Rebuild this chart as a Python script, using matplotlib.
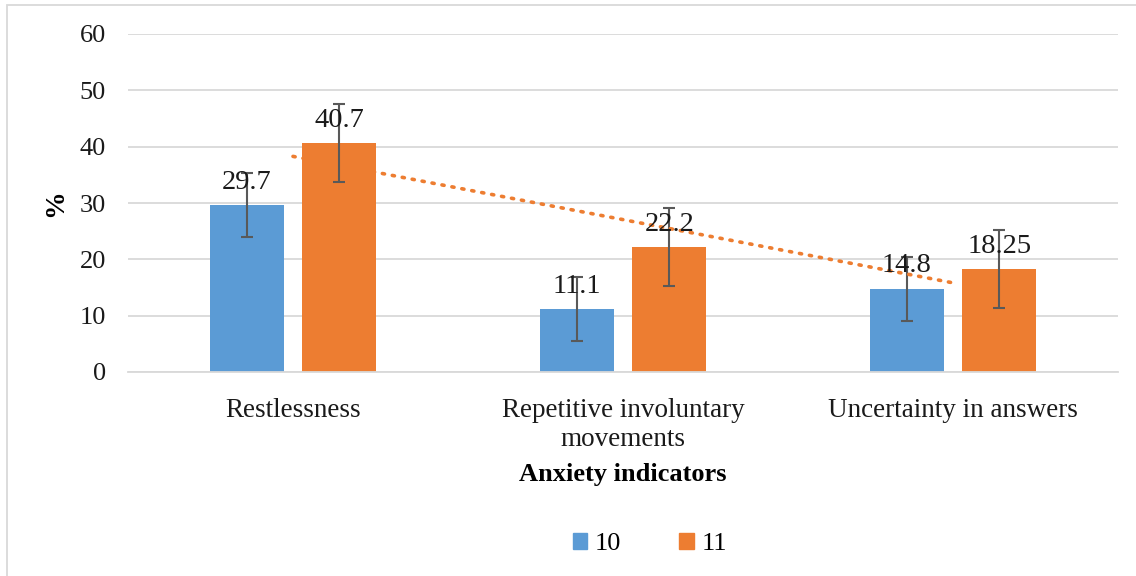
import numpy as np
import matplotlib as mpl
mpl.use('Agg')
import matplotlib.pyplot as plt
from matplotlib.patches import Rectangle, Patch

categories = ["Restlessness", "Repetitive involuntary\nmovements", "Uncertainty in answers"]
grade10 = [29.7, 11.1, 14.8]
grade11 = [40.7, 22.2, 18.25]
err10 = [5.68, 5.68, 5.68]
err11 = [6.92, 6.92, 6.92]
labels10 = ["29.7", "11.1", "14.8"]
labels11 = ["40.7", "22.2", "18.25"]
series_names = ["10", "11"]

blue = "#5B9BD5"
orange = "#ED7D31"

plt.rcParams['font.family'] = ['Liberation Serif', 'DejaVu Serif']

fig = plt.figure(figsize=(11.36, 5.76), dpi=100)
ax = fig.add_axes([128 / 1136, 1 - 372 / 576, (1118 - 128) / 1136, (372 - 34) / 576])

x = np.arange(len(categories))
w = 0.225
off = 0.14
ax.bar(x - off, grade10, w, color=blue, zorder=2)
ax.bar(x + off, grade11, w, color=orange, zorder=2)
ax.errorbar(x - off, grade10, yerr=err10, fmt='none', ecolor="#595959",
            elinewidth=1.5, capsize=4.5, capthick=1.5, zorder=3)
ax.errorbar(x + off, grade11, yerr=err11, fmt='none', ecolor="#595959",
            elinewidth=1.5, capsize=4.5, capthick=1.5, zorder=3)

# linear trendline of the "11" series
k, b = np.polyfit(x, grade11, 1)
ax.plot(x, k * x + b, color=orange, linestyle=(0, (0.6, 2.2)), linewidth=2.6,
        dash_capstyle='round', zorder=4)

for xi, v, t in zip(x - off, grade10, labels10):
    ax.text(xi, v + 1.8, t, ha='center', va='bottom', fontsize=20.5, color="#1a1a1a", zorder=5)
for xi, v, t in zip(x + off, grade11, labels11):
    ax.text(xi, v + 1.8, t, ha='center', va='bottom', fontsize=20.5, color="#1a1a1a", zorder=5)

ax.set_xlim(-0.5, 2.5)
ax.set_ylim(0, 60)
ax.set_yticks(range(0, 61, 10))
ax.yaxis.grid(True, color="#D9D9D9", linewidth=1.3, zorder=0)
ax.set_axisbelow(True)
for s in ['top', 'right', 'left']:
    ax.spines[s].set_visible(False)
ax.spines['bottom'].set_color("#D9D9D9")
ax.spines['bottom'].set_linewidth(1.3)
ax.tick_params(axis='both', length=0, colors="#1a1a1a")
ax.tick_params(axis='y', pad=16, labelsize=19)
ax.tick_params(axis='x', pad=19, labelsize=19.5)
ax.set_xticks(x)
ax.set_xticklabels(categories, linespacing=1.2)

ax.set_ylabel("%", fontsize=20, fontweight='bold', labelpad=8)
ax.set_xlabel("Anxiety indicators", fontsize=19, fontweight='bold', labelpad=8)

handles = [Patch(color=blue), Patch(color=orange)]
fig.legend(handles, series_names, loc='center', bbox_to_anchor=(650 / 1136, 1 - 544 / 576),
           ncol=2, frameon=False, fontsize=19, handlelength=0.55, handleheight=0.55,
           handletextpad=0.3, columnspacing=2.2)

fig.patches.append(Rectangle((7 / 1136, -0.1), 1.2, 1 - 5 / 576 + 0.1, transform=fig.transFigure,
                             fill=False, edgecolor="#D9D9D9", linewidth=1.3))

fig.savefig('out.png')
